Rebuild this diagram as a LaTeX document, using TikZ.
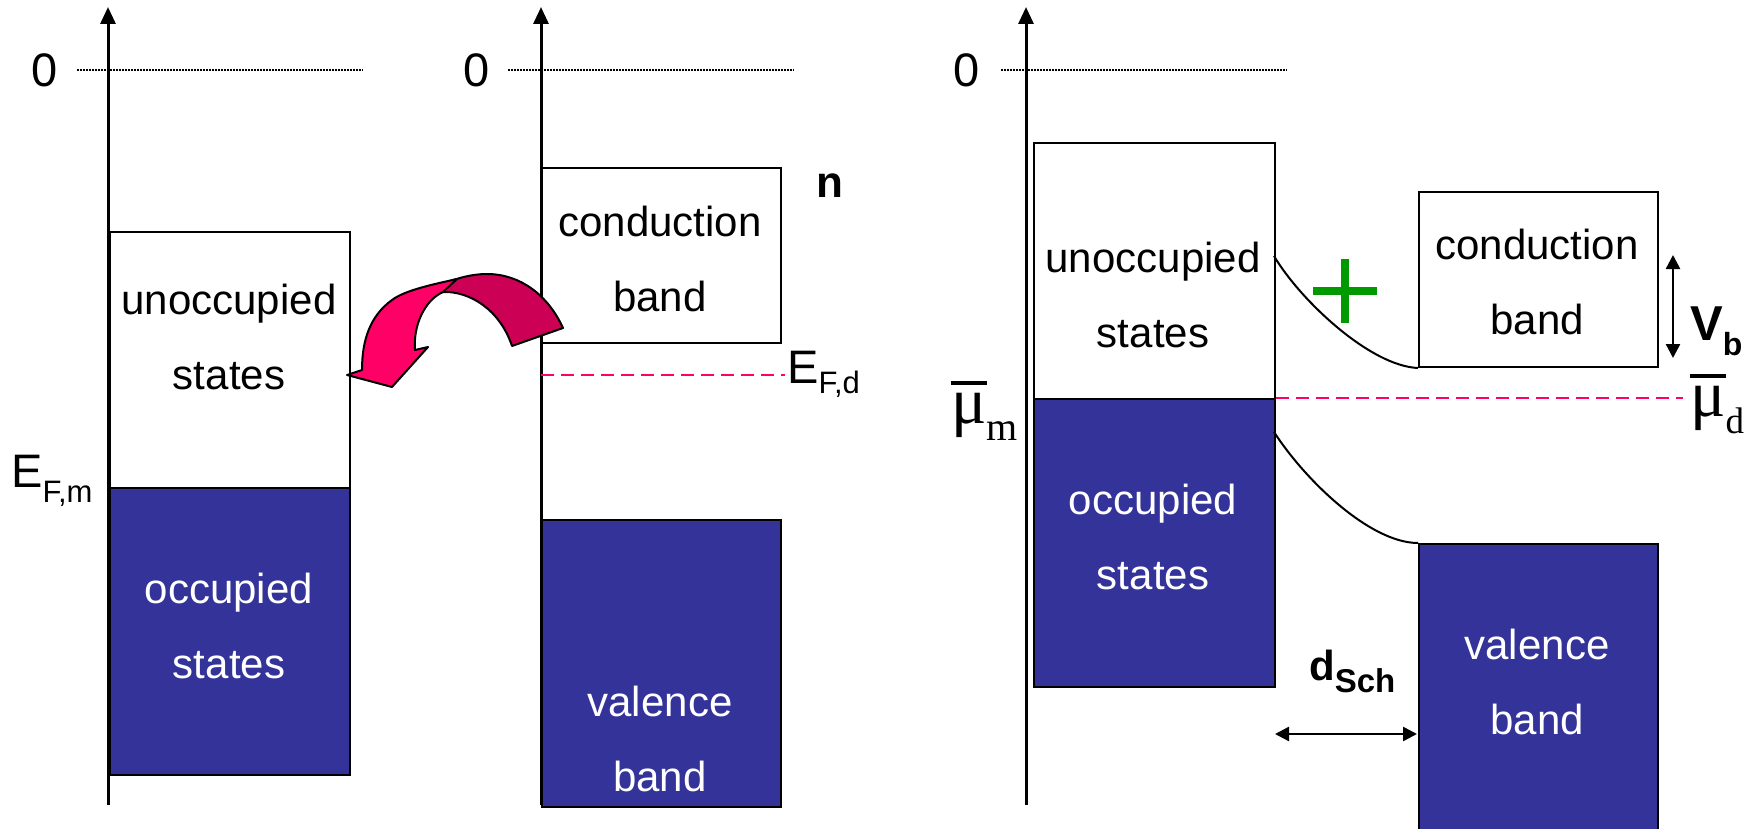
\documentclass[tikz,border=0pt]{standalone}
\usepackage{fontspec}
\setmainfont{Liberation Sans}
\newfontfamily\serif{Liberation Serif}
\usetikzlibrary{arrows.meta}
\definecolor{bandblue}{HTML}{333399}
\definecolor{fermipink}{HTML}{FF0066}
\definecolor{arrowlight}{HTML}{FF0066}
\definecolor{arrowdark}{HTML}{CC0055}
\definecolor{plusgreen}{HTML}{009900}
\begin{document}
\begin{tikzpicture}[x=1pt,y=-1pt,
  axis/.style={line width=3pt,-{Triangle[length=17pt,width=15pt]}},
  emptybox/.style={draw,line width=2pt,fill=white,inner sep=0pt,anchor=north west},
  filledbox/.style={draw,line width=2pt,fill=bandblue,inner sep=0pt,anchor=north west},
  boxtext/.style={font=\fontsize{42}{75}\selectfont,align=center,inner sep=0pt},
  whitetext/.style={boxtext,text=white},
  zeroline/.style={line width=1.5pt,dash pattern=on 1.5pt off 1.5pt},
  fermiline/.style={draw=fermipink,line width=2.5pt,dash pattern=on 13pt off 7pt},
  zerolabel/.style={font=\fontsize{47}{47}\selectfont,inner sep=0pt},
  bandedge/.style={line width=2pt},
  dimarrow/.style={line width=2.5pt,{Triangle[length=14pt,width=14pt]}-{Triangle[length=14pt,width=14pt]}},
  plusmark/.style={draw=plusgreen,line width=8.5pt},
  bigarrow/.style={draw=black,line width=2pt,line join=round}
]
\useasboundingbox (0,0) rectangle (1759,829);

% ---------- left panel ----------
\coordinate (ax1b) at (108,805);
\coordinate (ax1t) at (108,7);
\draw[axis] (ax1b) -- (ax1t);
\node[zerolabel] (zeroA) at (45,70) {0};
\coordinate (zlA1) at (77,70);
\coordinate (zlA2) at (363,70);
\draw[zeroline] (zlA1) -- (zlA2);
\node[emptybox,minimum width=240pt,minimum height=256pt] (lunocc) at (109,231) {};
\node[filledbox,minimum width=240pt,minimum height=287pt] (locc) at (109,487) {};
\node[boxtext] (lunocct) at (229,337) {unoccupied\\states};
\node[whitetext] (locct) at (229,626) {occupied\\states};
\node[anchor=base west,inner sep=0pt] (efm) at (11,487)
  {\fontsize{47}{47}\selectfont E\raisebox{-15pt}{\fontsize{31}{31}\selectfont F,m}};

% ---------- middle panel ----------
\coordinate (ax2b) at (541,805);
\coordinate (ax2t) at (541,7);
\draw[axis] (ax2b) -- (ax2t);
\node[zerolabel] (zeroB) at (477,70) {0};
\coordinate (zlB1) at (508,70);
\coordinate (zlB2) at (794,70);
\draw[zeroline] (zlB1) -- (zlB2);
\node[emptybox,minimum width=239pt,minimum height=175pt] (mcond) at (541,167) {};
\node[filledbox,minimum width=239pt,minimum height=287pt] (mval) at (541,519) {};
\node[boxtext] (mcondt) at (660,259) {conduction\\band};
\node[whitetext] (mvalt) at (660,739) {valence\\band};
\node[anchor=base west,inner sep=0pt,font=\bfseries\fontsize{44}{44}\selectfont] (nlab) at (816,198) {n};
\coordinate (efd1) at (541,375);
\coordinate (efd2) at (785,375);
\draw[fermiline] (efd1) -- (efd2);
\node[anchor=base west,inner sep=0pt] (efd) at (787,383)
  {\fontsize{47}{47}\selectfont E\raisebox{-10pt}{\fontsize{31}{31}\selectfont F,d}};

% curved transfer arrow
\path[bigarrow,fill=arrowdark] (563,328) .. controls (548,295) and (520,274) .. (487,274)
  .. controls (472,274) and (458,278) .. (445,283) -- (443,292)
  .. controls (470,291) and (500,310) .. (512,346) -- cycle;
\path[bigarrow,fill=arrowlight] (457,279) .. controls (435,284) and (405,290) .. (392,300)
  .. controls (370,316) and (362,340) .. (362,370)
  -- (347,375) -- (392,387) -- (428,347) -- (415,350)
  .. controls (413,325) and (425,300) .. (443,292) -- cycle;

% ---------- right panel ----------
\coordinate (ax3b) at (1026,805);
\coordinate (ax3t) at (1026,7);
\draw[axis] (ax3b) -- (ax3t);
\node[zerolabel] (zeroC) at (967,70) {0};
\coordinate (zlC1) at (1001,70);
\coordinate (zlC2) at (1287,70);
\draw[zeroline] (zlC1) -- (zlC2);
\node[emptybox,minimum width=241pt,minimum height=256pt] (runocc) at (1033,142) {};
\node[filledbox,minimum width=241pt,minimum height=288pt] (rocc) at (1033,398) {};
\node[emptybox,minimum width=239pt,minimum height=175pt] (rcond) at (1418,191) {};
\node[filledbox,minimum width=239pt,minimum height=290pt] (rval) at (1418,543) {};
\node[boxtext] (runocct) at (1153,295) {unoccupied\\states};
\node[whitetext] (rocct) at (1153,537) {occupied\\states};
\node[boxtext] (rcondt) at (1537,282) {conduction\\band};
\node[whitetext] (rvalt) at (1537,682) {valence\\band};

% band bending
\coordinate (bend1) at (1274,256);
\coordinate (bend2) at (1274,432);
\draw[bandedge] (bend1) .. controls (1300,300) and (1370,366) .. (rcond.south west);
\draw[bandedge] (bend2) .. controls (1305,480) and (1370,543) .. (rval.north west);

% Fermi level
\coordinate (mud2) at (1683,398);
\draw[fermiline] (rocc.north east) -- (mud2);

% plus
\coordinate (plh1) at (1313,291);
\coordinate (plh2) at (1377,291);
\coordinate (plv1) at (1345,259);
\coordinate (plv2) at (1345,323);
\draw[plusmark] (plh1) -- (plh2);
\draw[plusmark] (plv1) -- (plv2);

% Vb
\coordinate (vb1) at (1673,255);
\coordinate (vb2) at (1673,358);
\draw[dimarrow] (vb1) -- (vb2);
\node[anchor=base west,inner sep=0pt] (vblab) at (1690,340)
  {\bfseries\fontsize{49}{49}\selectfont V\raisebox{-15pt}{\fontsize{32}{32}\selectfont b}};

% dSch
\coordinate (ds1) at (1275,734);
\coordinate (ds2) at (1417,734);
\draw[dimarrow] (ds1) -- (ds2);
\node[anchor=base west,inner sep=0pt] (dslab) at (1309,680)
  {\bfseries\fontsize{42}{42}\selectfont d\raisebox{-12pt}{\fontsize{33}{33}\selectfont Sch}};

% mu labels
\node[anchor=base west,inner sep=0pt] (mum) at (951,423)
  {\serif\fontsize{66}{66}\selectfont\vbox{\hrule height 3.5pt\kern 8pt\hbox{μ}}\raisebox{-17pt}{\fontsize{40}{40}\selectfont m}};
\node[anchor=base west,inner sep=0pt] (mud) at (1690,416)
  {\serif\fontsize{66}{66}\selectfont\vbox{\hrule height 3.5pt\kern 8pt\hbox{μ}}\raisebox{-17pt}{\fontsize{37}{37}\selectfont d}};
\end{tikzpicture}
\end{document}
